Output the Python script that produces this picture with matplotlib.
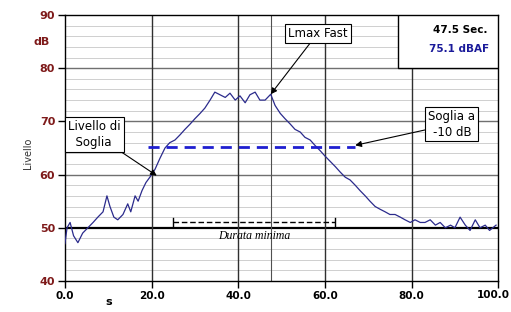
"""Livello sonoro vs tempo, soglia e durata minima."""

import matplotlib.pyplot as plt
import numpy as np

# tempo (s) e livello (dB)
time_s = [
    0.0, 0.5, 1.2, 2.0, 3.0, 4.1, 5.3, 6.5, 7.6, 8.8, 9.7, 10.4, 11.3, 12.2,
    13.4, 14.5, 15.2, 16.2, 16.9, 17.8, 18.7, 19.6, 20.8, 21.9, 23.1, 24.2,
    25.4, 26.6, 27.7, 28.9, 30.0, 31.2, 32.3, 33.5, 34.6, 35.8, 37.0, 38.1,
    39.3, 40.4, 41.6, 42.7, 43.9, 45.0, 46.2, 47.5, 48.5, 49.7, 50.8, 52.0,
    53.1, 54.3, 55.4, 56.6, 57.7, 58.9, 60.0, 61.2, 62.4, 63.5, 64.7, 65.8,
    67.0, 68.1, 69.3, 70.4, 71.6, 72.7, 73.9, 75.0, 76.2, 77.4, 78.5, 79.7,
    80.8, 82.0, 83.1, 84.3, 85.5, 86.6, 87.8, 89.0, 90.0, 91.2, 92.4, 93.5,
    94.7, 95.8, 97.0, 98.0, 99.5,
]
level_db = [
    47.0, 50.0, 51.0, 48.5, 47.2, 49.0, 50.0, 51.0, 52.0, 53.0, 56.0, 54.0,
    52.0, 51.5, 52.5, 54.5, 53.0, 56.0, 55.0, 57.0, 58.5, 59.5, 61.0, 63.0,
    65.0, 66.0, 66.5, 67.5, 68.5, 69.5, 70.5, 71.5, 72.5, 74.0, 75.5, 75.0,
    74.5, 75.3, 74.0, 74.8, 73.5, 75.0, 75.5, 74.0, 74.0, 75.1, 73.0, 71.5,
    70.5, 69.5, 68.5, 68.0, 67.0, 66.5, 65.5, 64.5, 63.5, 62.5, 61.5, 60.5,
    59.5, 59.0, 58.0, 57.0, 56.0, 55.0, 54.0, 53.5, 53.0, 52.5, 52.5, 52.0,
    51.5, 51.0, 51.5, 51.0, 51.0, 51.5, 50.5, 51.0, 50.0, 50.5, 50.0, 52.0,
    50.5, 49.5, 51.5, 50.0, 50.5, 49.5, 50.5,
]

LMAX_TIME = 47.5
LMAX_LEVEL = 75.1
THRESHOLD = 65.1
THRESHOLD_SPAN = (19.2, 67.0)
MIN_DURATION_SPAN = (24.9, 62.4)
MIN_DURATION_LEVEL = 51.1

x_ticks = [0, 20, 40, 60, 80, 100]
x_tick_labels = ["0.0", "20.0", "40.0", "60.0", "80.0", "100.0"]
y_ticks = [40, 50, 60, 70, 80, 90]

DARK_RED = "#7e1a1a"

fig = plt.figure(figsize=(5.11, 3.12), dpi=100)
ax = fig.add_axes([0.127, 0.0994, 0.848, 0.8526])
ax.set_xlim(0, 100)
ax.set_ylim(40, 90)

# griglia
for y in np.arange(42, 90, 2):
    if y % 10:
        ax.axhline(y, color="#cfcfcf", lw=0.7, zorder=0)
for y in (60, 70, 80):
    ax.axhline(y, color="#707070", lw=1.0, zorder=0)
ax.axhline(50, color="black", lw=1.6, zorder=1)
for x in (20, 40, 60):
    ax.axvline(x, color="#303030", lw=1.0, zorder=1)
ax.plot([80, 80], [40, 80], color="#303030", lw=1.0, zorder=1)
ax.axvline(LMAX_TIME, color="#505050", lw=0.8, zorder=1)

# curva
ax.plot(time_s, level_db, color="#2b2b8c", lw=0.9, zorder=3)

# soglia
ax.plot(THRESHOLD_SPAN, [THRESHOLD, THRESHOLD], color="#1f1fd0", lw=2.0,
        dashes=(4, 2.5), zorder=4)

# durata minima
ax.plot(MIN_DURATION_SPAN, [MIN_DURATION_LEVEL] * 2, color="black", lw=1.0,
        dashes=(4, 2), zorder=4)
for x in MIN_DURATION_SPAN:
    ax.plot([x, x], [MIN_DURATION_LEVEL - 0.7, MIN_DURATION_LEVEL + 0.7],
            color="black", lw=1.0, zorder=4)
ax.text(sum(MIN_DURATION_SPAN) / 2, 48.4, "Durata minima", ha="center",
        va="center", fontsize=8.5, style="italic", family="Liberation Serif")

# riquadro Lmax
ax.add_patch(plt.Rectangle((76.9, 80), 23.1, 10, fill=True, facecolor="white",
                           edgecolor="black", lw=1.0, zorder=5))
ax.text(97.5, 87.2, f"{LMAX_TIME} Sec.", ha="right", va="center", fontsize=7.5,
        fontweight="bold", zorder=6)
ax.text(98.0, 83.6, f"{LMAX_LEVEL} dBAF", ha="right", va="center",
        fontsize=7.5, fontweight="bold", color="#1a1a9a", zorder=6)

box = dict(boxstyle="square,pad=0.25", facecolor="white", edgecolor="black",
           lw=0.8)
arrow = dict(arrowstyle="-|>", color="black", lw=0.8, mutation_scale=9,
             shrinkA=0, shrinkB=0)
ax.annotate("Lmax Fast", xy=(LMAX_TIME, LMAX_LEVEL), xytext=(51.5, 86.6),
            fontsize=8.5, va="center", ha="left", bbox=box, arrowprops=arrow,
            zorder=6)
ax.annotate("Livello di\n  Soglia", xy=(21.2, 59.8), xytext=(0.8, 67.6),
            fontsize=8.5, va="center", ha="left", bbox=box, arrowprops=arrow,
            linespacing=1.3, zorder=6)
ax.annotate("Soglia a\n-10 dB", xy=(67.0, 65.5), xytext=(89.3, 69.5),
            fontsize=8.5, va="center", ha="center", bbox=box, arrowprops=arrow,
            linespacing=1.3, zorder=6)

# assi
ax.set_xticks(x_ticks)
ax.set_xticklabels(x_tick_labels[:-1] + [""], fontweight="bold", fontsize=7.5)
# l'ultima etichetta tocca il bordo destro: allineata a destra della figura
fig.text(0.998, ax.get_position().y0 - 0.028, x_tick_labels[-1], ha="right",
         va="top", fontsize=7.5, fontweight="bold")
ax.set_yticks(y_ticks)
ax.set_yticklabels([str(v) for v in y_ticks], fontweight="bold", fontsize=8,
                   color=DARK_RED)
ax.tick_params(axis="both", direction="out", length=5, width=1.0, pad=2)
ax.text(-0.035, 85.0, "dB", transform=ax.get_yaxis_transform(), ha="right",
        va="center", fontsize=8, fontweight="bold", color=DARK_RED)
ax.text(10.0, -0.06, "s", transform=ax.get_xaxis_transform(), ha="center",
        va="top", fontsize=8, fontweight="bold")
ax.text(-0.085, 64.0, "Livello", transform=ax.get_yaxis_transform(),
        rotation=90, ha="center", va="center", fontsize=7, color="#333333")
for spine in ax.spines.values():
    spine.set_linewidth(1.0)

fig.savefig("out.png", dpi=100)
